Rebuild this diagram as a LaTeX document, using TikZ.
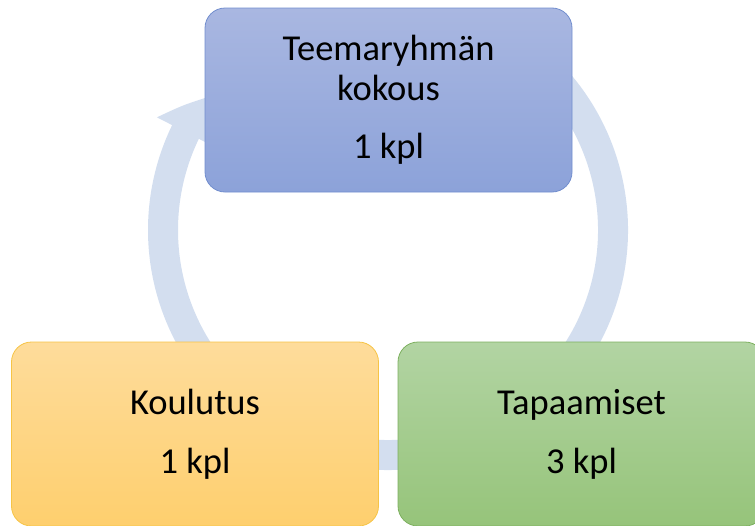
\documentclass[tikz,border=0pt]{standalone}
\usepackage{fontspec}
\setmainfont{Carlito}
\usetikzlibrary{arrows.meta,bending}
\definecolor{ringblue}{RGB}{211,222,239}
\definecolor{bluetop}{RGB}{169,183,225}
\definecolor{bluebot}{RGB}{140,162,217}
\definecolor{blueline}{RGB}{114,142,206}
\definecolor{orangetop}{RGB}{254,220,155}
\definecolor{orangebot}{RGB}{254,207,110}
\definecolor{orangeline}{RGB}{246,196,70}
\definecolor{greentop}{RGB}{178,212,163}
\definecolor{greenbot}{RGB}{150,196,122}
\definecolor{greenline}{RGB}{125,176,95}
\begin{document}
\begin{tikzpicture}[x=1pt,y=1pt,
    box/.style = {rounded corners=20pt, minimum width=367pt, minimum height=184pt,
                  inner sep=0pt, align=center, line width=0.8pt,
                  font=\fontsize{36.5}{40}\selectfont},
    ring/.style = {draw=ringblue, line width=30pt}]
    \useasboundingbox (0,0) rectangle (755,-525);
    \clip (0,0) rectangle (755,-525);

    % cycle
    \draw[ring, -{Triangle[length=40pt,width=62pt,bend]}]
        ([shift={(60:225)}]388,-230) arc[start angle=60, end angle=-216, radius=225];

    % steps
    \node[box, draw=blueline, top color=bluetop, bottom color=bluebot] (1) at (388.5,-100)
        {Teemaryhmän\\kokous\\[18pt]1 kpl};
    \node[box, draw=orangeline, top color=orangetop, bottom color=orangebot] (2) at (195,-434)
        {Koulutus\\[19pt]1 kpl};
    \node[box, draw=greenline, top color=greentop, bottom color=greenbot] (3) at (581.5,-434)
        {Tapaamiset\\[19pt]3 kpl};
\end{tikzpicture}
\end{document}
